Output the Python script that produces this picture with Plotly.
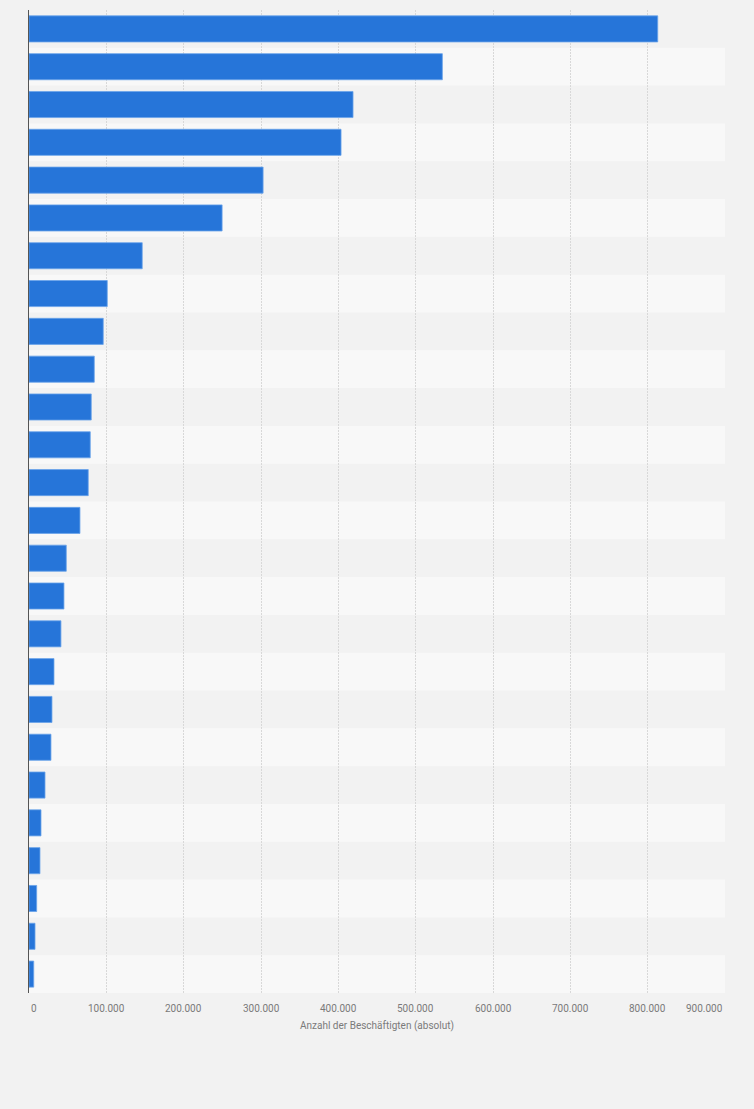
import plotly.graph_objects as go

# Data (category labels are not shown in the chart)
categories = [f"Rang {i}" for i in range(1, 27)]
values = [813000, 534500, 419000, 403500, 302700, 249700, 146400, 101200,
          96000, 84400, 80500, 79200, 76600, 65900, 48200, 45200, 41300,
          32300, 29700, 28400, 20700, 15500, 14200, 9900, 7800, 6100]
tick_values = [0, 100000, 200000, 300000, 400000, 500000, 600000, 700000, 800000, 900000]
tick_labels = ["0", "100.000", "200.000", "300.000", "400.000", "500.000",
               "600.000", "700.000", "800.000", "900.000"]
x_title = "Anzahl der Beschäftigten (absolut)"

BG = "#f2f2f2"
BAND_LIGHT = "#f8f8f8"
BAR = "#2675d9"
TXT = "#7a7a7a"
FONT = "Roboto"

fig = go.Figure()
fig.add_trace(go.Bar(
    x=values, y=categories, orientation="h",
    marker=dict(color=BAR, line=dict(color="#6aa3ea", width=0.8)),
    width=0.69, hoverinfo="x",
))

# alternating row bands (even rows lighter)
shapes = []
for i, c in enumerate(categories):
    if i % 2 == 1:
        shapes.append(dict(type="rect", xref="paper", yref="y",
                           x0=0, x1=1, y0=i - 0.5, y1=i + 0.5,
                           fillcolor=BAND_LIGHT, line=dict(width=0), layer="below"))

annotations = []
for i, (tv, tl) in enumerate(zip(tick_values, tick_labels)):
    if i == 0:
        anchor = "left"
    elif i == len(tick_values) - 1:
        anchor = "right"
    else:
        anchor = "center"
    annotations.append(dict(x=tv, y=0, xref="x", yref="paper", text=tl,
                            showarrow=False, xanchor=anchor, yanchor="middle",
                            yshift=-15, font=dict(family=FONT, size=10, color=TXT)))
annotations.append(dict(x=0.5, y=0, xref="paper", yref="paper", text=x_title,
                        showarrow=False, xanchor="center", yanchor="middle",
                        yshift=-33, font=dict(family=FONT, size=10, color=TXT)))

fig.update_layout(
    width=754, height=1109,
    margin=dict(l=29, r=29, t=10, b=116),
    paper_bgcolor=BG, plot_bgcolor=BG,
    showlegend=False,
    shapes=shapes,
    annotations=annotations,
    bargap=0.31,
    xaxis=dict(range=[0, 900000], tickvals=tick_values, showticklabels=False,
               showgrid=True, gridcolor="#d8d8d8", griddash="2px,1px", gridwidth=1,
               zeroline=False, showline=False, fixedrange=True),
    yaxis=dict(categoryorder="array", categoryarray=categories,
               autorange="reversed", showticklabels=False, showgrid=False,
               showline=True, linecolor="#555555", linewidth=1,
               zeroline=False, ticks="", fixedrange=True),
    font=dict(family=FONT, size=10, color=TXT),
)

fig.write_html(
    "out.html",
    config={"displayModeBar": False},
    post_script="document.body.style.margin='0';document.body.style.background='#f2f2f2';",
)
